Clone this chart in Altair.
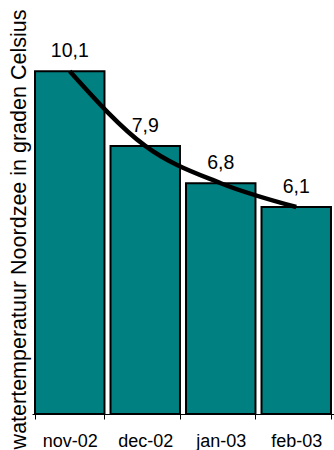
import altair as alt
import pandas as pd

# Monthly North Sea water temperature (degrees Celsius)
months = ["nov-02", "dec-02", "jan-03", "feb-03"]
temps = [10.1, 7.9, 6.8, 6.1]

df = pd.DataFrame({"maand": months, "temp": temps})

FONT = "Liberation Sans"

x = alt.X(
    "maand:N",
    sort=months,
    title=None,
    scale=alt.Scale(paddingInner=0.08, paddingOuter=0.04),
    axis=alt.Axis(
        labelAngle=0,
        labelFont=FONT,
        labelFontSize=18,
        labelColor="black",
        labelPadding=13,
        domainColor="black",
        domainWidth=1,
        tickColor="black",
        tickSize=5,
        tickBand="extent",
        grid=False,
    ),
)

y = alt.Y(
    "temp:Q",
    title="watertemperatuur Noordzee in graden Celsius",
    scale=alt.Scale(domain=[0, 12.2], nice=False, zero=True),
    axis=alt.Axis(
        labels=False,
        ticks=False,
        domain=False,
        grid=False,
        titleFont=FONT,
        titleFontSize=21.5,
        titleFontWeight="normal",
        titleColor="black",
        titleAngle=-90,
        titleAlign="center",
        titleBaseline="alphabetic",
        titleX=-7,
        titleY=229,
    ),
)

base = alt.Chart(df)

bars = base.mark_bar(color="#008080", stroke="black", strokeWidth=2).encode(x=x, y=y)

trend = base.mark_line(color="black", strokeWidth=4.5, interpolate="monotone").encode(
    x=alt.X("maand:N", sort=months), y="temp:Q"
)

labels = (
    base.transform_calculate(lbl="replace(format(datum.temp, '.1f'), '.', ',')")
    .mark_text(font=FONT, fontSize=19.5, color="black", baseline="alphabetic", dy=-14)
    .encode(x=alt.X("maand:N", sort=months), y="temp:Q", text="lbl:N")
)

chart = (
    alt.layer(bars, trend, labels)
    .properties(
        width=302,
        height=414,
        autosize=alt.AutoSizeParams(type="none"),
        padding={"left": 32, "top": 0, "right": 0, "bottom": 36},
        background="white",
    )
    .configure_view(stroke=None)
)

chart.save("out.html", embed_options={"renderer": "svg", "actions": False})
